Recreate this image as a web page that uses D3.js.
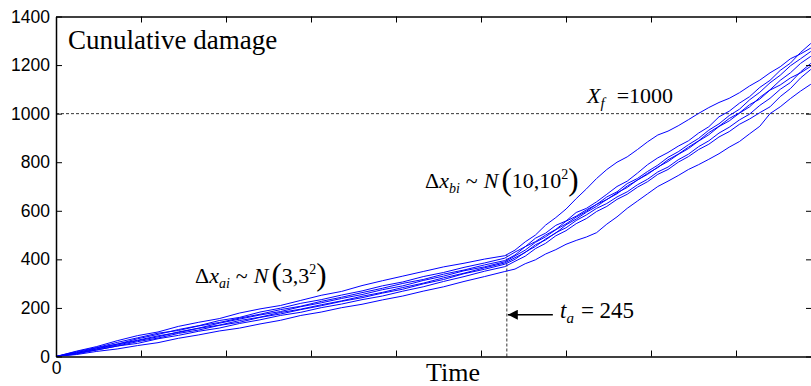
<!DOCTYPE html>
<html>
<head>
<meta charset="utf-8">
<script src="https://cdn.jsdelivr.net/npm/d3@7"></script>
<style>
  body { margin: 0; background: #fff; }
  svg { display: block; }
</style>
</head>
<body>
<script>
// time grid (phase a, then phase b after t_a)
const timeA = [0, 6, 12, 18, 24, 30, 36, 42, 48, 54, 60, 66, 72, 78, 84, 90, 96, 102, 108, 114, 120, 126, 132];
const timeB = [135, 138, 141, 144, 147, 150, 153, 156, 159, 162, 165, 168, 171, 174, 177, 180, 183, 186, 189, 192, 195, 198, 201, 204, 207, 210, 213, 216, 219, 222];

// cumulative damage paths
const run1 = [0, 22, 41, 65, 86, 101, 124, 141, 156, 179, 196, 210, 231, 252, 268, 292, 312, 331, 350, 369, 384, 401, 415,
  438, 472, 500, 541, 572, 607, 650, 690, 733, 770, 800, 822, 852, 884, 912, 928, 950, 975, 1001, 1025, 1046, 1063, 1086, 1114, 1138, 1168, 1193, 1226, 1246, 1270];
const run2 = [0, 15, 36, 51, 73, 91, 111, 127, 148, 161, 183, 199, 219, 234, 253, 270, 291, 307, 329, 346, 367, 385, 405,
  430, 452, 487, 508, 540, 558, 593, 610, 637, 668, 700, 722, 755, 790, 818, 840, 866, 888, 920, 946, 987, 1010, 1043, 1070, 1108, 1137, 1178, 1208, 1252, 1289];
const run3 = [0, 20, 37, 58, 77, 96, 107, 126, 140, 158, 174, 193, 207, 227, 244, 263, 281, 301, 317, 339, 356, 377, 395,
  418, 452, 473, 500, 523, 557, 578, 604, 626, 657, 678, 712, 733, 762, 788, 820, 843, 872, 898, 932, 958, 992, 1018, 1057, 1088, 1127, 1158, 1197, 1226, 1256];
const run4 = [0, 12, 31, 47, 65, 81, 101, 117, 137, 154, 171, 185, 205, 221, 239, 255, 275, 291, 313, 331, 353, 369, 390,
  414, 438, 470, 493, 522, 546, 574, 598, 627, 646, 674, 696, 727, 750, 780, 803, 832, 856, 887, 913, 947, 970, 1002, 1028, 1067, 1098, 1137, 1168, 1207, 1236];
const run5 = [0, 17, 32, 51, 67, 85, 99, 116, 129, 148, 162, 181, 195, 213, 229, 248, 264, 284, 302, 324, 343, 365, 385,
  407, 428, 460, 480, 510, 530, 560, 583, 610, 630, 657, 678, 707, 730, 760, 780, 810, 833, 864, 888, 920, 944, 974, 998, 1034, 1063, 1100, 1128, 1172, 1207];
const run6 = [0, 10, 27, 43, 61, 76, 95, 109, 128, 141, 161, 175, 193, 209, 227, 242, 261, 277, 299, 317, 341, 359, 380,
  400, 430, 453, 484, 508, 542, 566, 594, 618, 647, 670, 702, 726, 754, 778, 810, 833, 862, 888, 922, 948, 980, 1003, 1037, 1060, 1097, 1118, 1147, 1168, 1195];
const run7 = [0, 14, 27, 43, 54, 73, 87, 104, 117, 136, 151, 169, 182, 201, 216, 234, 249, 269, 287, 309, 329, 351, 370,
  392, 413, 444, 466, 497, 518, 547, 568, 597, 618, 647, 668, 697, 720, 750, 770, 800, 823, 852, 874, 904, 926, 956, 978, 1004, 1028, 1070, 1103, 1147, 1182];
const run8 = [0, 8, 21, 31, 45, 57, 75, 89, 105, 117, 134, 149, 169, 183, 201, 215, 233, 249, 269, 287, 309, 329, 350,
  360, 382, 398, 422, 440, 462, 478, 492, 510, 545, 575, 610, 640, 670, 700, 722, 745, 770, 790, 812, 835, 862, 885, 917, 948, 1000, 1028, 1062, 1093, 1121];
const runs = [run1, run2, run3, run4, run5, run6, run7, run8];

const yTicks = [0, 200, 400, 600, 800, 1000, 1200, 1400];
const xTicks = [0, 25, 50, 75, 100, 125, 150, 175, 200, 225];
const failLevel = 1000;      // X_f
const taTime = 132.6;        // position of t_a on the time axis
const taLabel = '245';
const taTop = 420;
const arrowLevel = 172;

const W = 811, H = 386;
const margin = { top: 16.5, right: -1, bottom: 29.5, left: 56 };
const width = W - margin.left - margin.right;
const height = H - margin.top - margin.bottom;

const svg = d3.select('body').append('svg')
  .attr('width', W)
  .attr('height', H);

svg.append('defs').append('clipPath')
  .attr('id', 'clip')
  .append('rect')
  .attr('width', width)
  .attr('height', height);

const g = svg.append('g')
  .attr('transform', `translate(${margin.left}, ${margin.top})`);

const x = d3.scaleLinear().domain([0, width / 3.4]).range([0, width]);
const y = d3.scaleLinear().domain([0, 1400]).range([height, 0]);

const allTime = timeA.concat(timeB);
const line = d3.line()
  .x((d, i) => x(allTime[i]))
  .y(d => y(d));

// reference lines
g.append('line')
  .attr('x1', 0).attr('x2', width)
  .attr('y1', y(failLevel)).attr('y2', y(failLevel))
  .attr('stroke', '#000').attr('stroke-width', 0.8)
  .attr('stroke-dasharray', '3,2');

g.append('line')
  .attr('x1', x(taTime)).attr('x2', x(taTime))
  .attr('y1', y(0)).attr('y2', y(taTop))
  .attr('stroke', '#000').attr('stroke-width', 0.8)
  .attr('stroke-dasharray', '3,2');

// curves
g.append('g')
  .attr('clip-path', 'url(#clip)')
  .selectAll('path')
  .data(runs)
  .join('path')
  .attr('fill', 'none')
  .attr('stroke', '#0000ff')
  .attr('stroke-width', 1)
  .attr('stroke-linejoin', 'round')
  .attr('d', line);

// axes, ticks inward on all four sides
const axisFont = '"Liberation Sans", Arial, sans-serif';
const yAxis = g.append('g')
  .call(d3.axisLeft(y).tickValues(yTicks).tickSize(-6).tickSizeOuter(0).tickPadding(6)
    .tickFormat(d3.format('d')));
yAxis.selectAll('text').style('font-family', axisFont).style('font-size', '17.5px').attr('fill', '#000');

g.append('g')
  .attr('transform', `translate(${width}, 0)`)
  .call(d3.axisRight(y).tickValues(yTicks).tickSize(-6).tickSizeOuter(0).tickFormat(''));

const xAxis = g.append('g')
  .attr('transform', `translate(0, ${height})`)
  .call(d3.axisBottom(x).tickValues(xTicks).tickSize(-6).tickSizeOuter(0).tickPadding(5)
    .tickFormat(d => d === 0 ? '0' : ''));
xAxis.selectAll('text').style('font-family', axisFont).style('font-size', '17.5px').attr('fill', '#000');

g.append('g')
  .call(d3.axisTop(x).tickValues(xTicks).tickSize(-6).tickSizeOuter(0).tickFormat(''));

g.selectAll('.domain').attr('stroke', '#000').attr('stroke-width', 1.5);
g.selectAll('.tick line').attr('stroke', '#000');

// arrow pointing at t_a
svg.append('defs').append('marker')
  .attr('id', 'head')
  .attr('viewBox', '0 0 10 10')
  .attr('refX', 10).attr('refY', 5)
  .attr('markerWidth', 15).attr('markerHeight', 10)
  .attr('markerUnits', 'userSpaceOnUse')
  .attr('orient', 'auto')
  .append('path')
  .attr('d', 'M0,0L10,5L0,10z')
  .attr('fill', '#000');

g.append('line')
  .attr('x1', x(taTime) + 46).attr('x2', x(taTime) + 1)
  .attr('y1', y(arrowLevel)).attr('y2', y(arrowLevel))
  .attr('stroke', '#000').attr('stroke-width', 1.5)
  .attr('marker-end', 'url(#head)');

// text
const serif = '"Liberation Serif", "Times New Roman", serif';

svg.append('text')
  .attr('x', 68).attr('y', 49)
  .style('font-family', serif).style('font-size', '27px')
  .text('Cunulative damage');

svg.append('text')
  .attr('x', 453).attr('y', 381)
  .attr('text-anchor', 'middle')
  .style('font-family', serif).style('font-size', '26px')
  .text('Time');

// X_f = 1000
const xf = svg.append('text')
  .attr('x', 587).attr('y', 103)
  .style('font-family', serif).style('font-size', '22px');
xf.append('tspan').style('font-style', 'italic').text('X');
xf.append('tspan').style('font-style', 'italic').style('font-size', '15px').attr('dy', 5).text('f');
xf.append('tspan').attr('dy', -5).attr('dx', 12).text('=1000');

// t_a = 245
const ta = svg.append('text')
  .attr('x', 560).attr('y', 318)
  .style('font-family', serif).style('font-size', '23px');
ta.append('tspan').style('font-style', 'italic').text('t');
ta.append('tspan').style('font-style', 'italic').style('font-size', '15px').attr('dy', 5).text('a');
ta.append('tspan').attr('dy', -5).attr('dx', 7).text('= ' + taLabel);

function distLabel(px, py, sub, inner, sup) {
  const t = svg.append('text')
    .attr('x', px).attr('y', py)
    .style('font-family', serif).style('font-size', '22px');
  t.append('tspan').text('\u0394');
  t.append('tspan').style('font-style', 'italic').text('x');
  t.append('tspan').style('font-style', 'italic').style('font-size', '14px').attr('dy', 5).text(sub);
  t.append('tspan').attr('dy', -5).attr('dx', 6).text('~');
  t.append('tspan').attr('dx', 6).style('font-style', 'italic').text('N');
  t.append('tspan').attr('dx', 3).attr('dy', 2).style('font-size', '31px').text('(');
  t.append('tspan').attr('dy', -2).text(inner);
  t.append('tspan').attr('dy', -9).style('font-size', '14px').text(sup);
  t.append('tspan').attr('dy', 11).style('font-size', '31px').text(')');
}
distLabel(425, 188, 'bi', '10,10', '2');
distLabel(195, 283, 'ai', '3,3', '2');
</script>
</body>
</html>
